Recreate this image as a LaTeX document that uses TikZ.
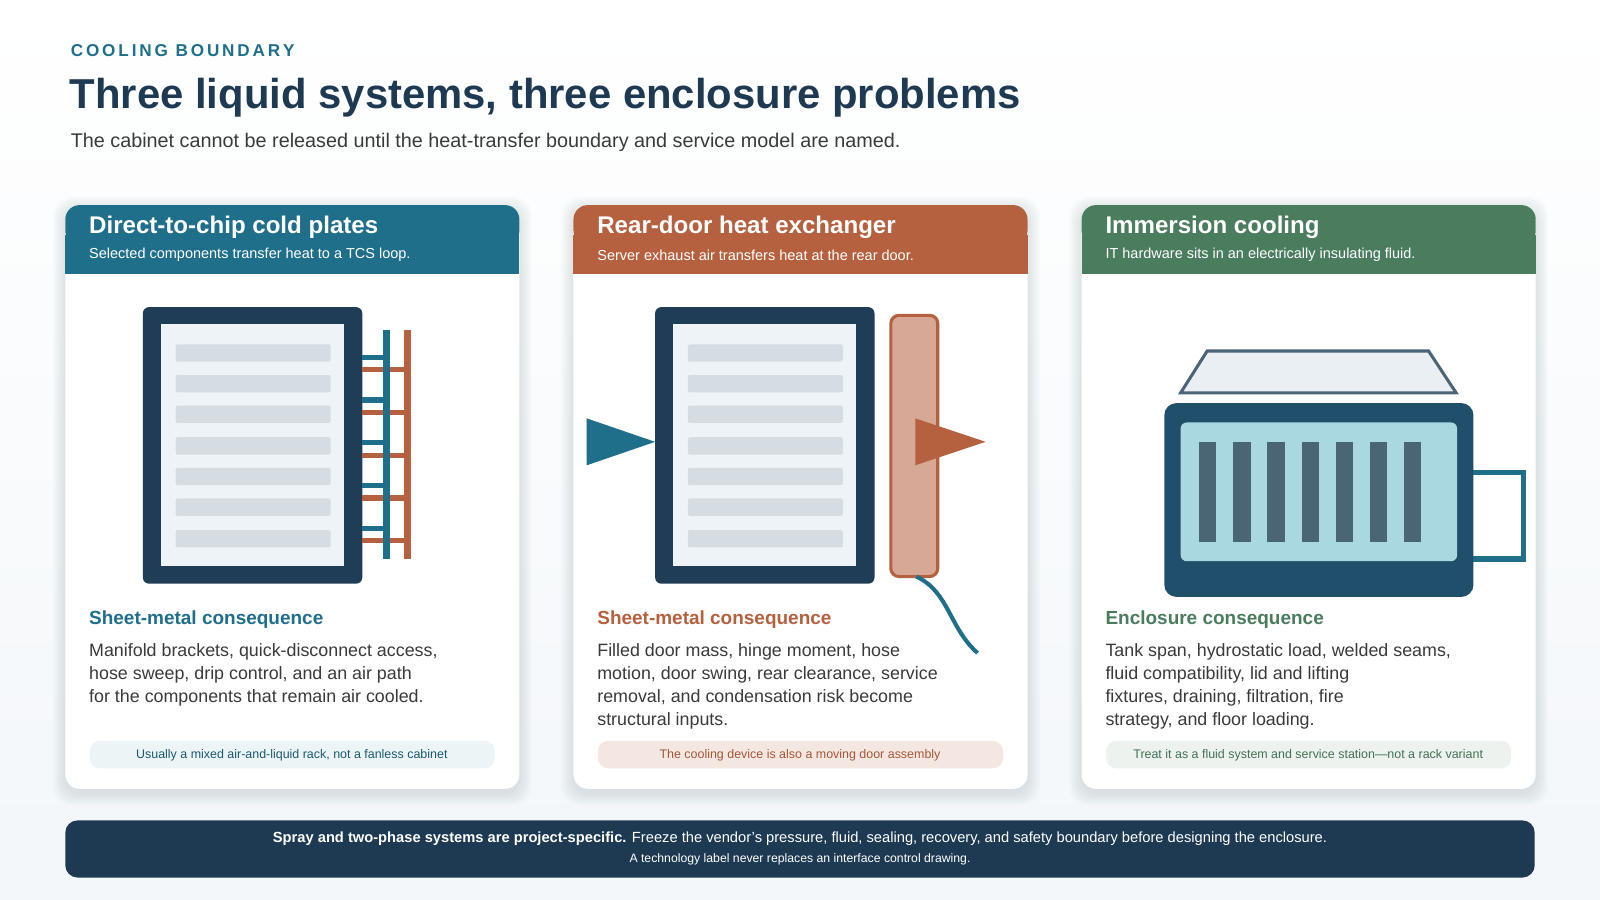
\documentclass[tikz,border=0pt]{standalone}
\usepackage{fontspec}
\setmainfont{Liberation Sans}
\definecolor{navy}{HTML}{1D3A52}
\definecolor{teal}{HTML}{1F6F8B}
\definecolor{rust}{HTML}{B5603F}
\definecolor{grn}{HTML}{4A7C5E}
\definecolor{srv}{HTML}{1F3D56}
\definecolor{srvin}{HTML}{EEF3F7}
\definecolor{bar}{HTML}{D5DDE3}
\definecolor{bodyc}{HTML}{3A3A3A}
\definecolor{tank}{HTML}{1F4F6A}
\definecolor{fluid}{HTML}{A9D8E0}
\definecolor{board}{HTML}{4A6573}
\begin{document}
\begin{tikzpicture}[x=0.5pt,y=-0.5pt,
  card/.style={fill=white,rounded corners=7pt},
  shade/.style={fill=navy,fill opacity=0.018,rounded corners=9pt},
  htitle/.style={anchor=west,text=white,font=\bfseries\fontsize{11.8}{14}\selectfont,inner sep=0},
  hsub/.style={anchor=west,text=white,font=\fontsize{7.1}{8}\selectfont,inner sep=0},
  sec/.style={anchor=west,font=\bfseries\fontsize{9.3}{11}\selectfont,inner sep=0},
  body/.style={anchor=north west,align=left,text=bodyc,font=\fontsize{8.75}{11.25}\selectfont,inner sep=0},
  note/.style={font=\fontsize{6.1}{7}\selectfont,inner sep=0},
  bars/.style={fill=bar,rounded corners=1pt}]
\useasboundingbox (0,0) rectangle (1568,882);
\fill[top color=white,bottom color=srvin!70] (0,0) rectangle (1568,882);
% titles
\node[anchor=west,text=teal,font=\bfseries\fontsize{8.4}{10}\selectfont,inner sep=0] (kicker) at (69,50) {C\,O\,O\,L\,I\,N\,G\ \,B\,O\,U\,N\,D\,A\,R\,Y};
\node[anchor=west,text=navy,font=\bfseries\fontsize{20.5}{24}\selectfont,inner sep=0] (title) at (68,96) {Three liquid systems, three enclosure problems};
\node[anchor=west,text=bodyc,font=\fontsize{9.7}{11}\selectfont,inner sep=0] (sub) at (69,140) {The cabinet cannot be released until the heat-transfer boundary and service model are named.};
% cards
\foreach \x/\c/\n in {64/teal/a,562/rust/b,1060/grn/c}{
  \foreach \k in {2,4,...,12} \path[shade] (\x-\k,201-\k+4) rectangle (\x+445+\k,773+\k+4);
  \path[card] (\x,201) rectangle (\x+445,773);
  \fill[\c,rounded corners=7pt] (\x,201) rectangle (\x+445,240);
  \fill[\c] (\x,230) rectangle (\x+445,269);
}
\node[htitle] (ha) at (87,223) {Direct-to-chip cold plates};
\node[hsub] (sa) at (87,250) {Selected components transfer heat to a TCS loop.};
\node[htitle] (hb) at (585,223) {Rear-door heat exchanger};
\node[hsub] (sb) at (585,250) {Server exhaust air transfers heat at the rear door.};
\node[htitle] (hc) at (1083,223) {Immersion cooling};
\node[hsub] (sc) at (1083,250) {IT hardware sits in an electrically insulating fluid.};
% servers
\foreach \x in {140,642}{
  \fill[srv,rounded corners=3pt] (\x,301) rectangle (\x+215,572);
  \fill[srvin] (\x+18,318) rectangle (\x+197,555);
  \foreach \y in {346,376,406,437,467,497,528}
    \fill[bars] (\x+32,\y-8.5) rectangle (\x+184,\y+8.5);
}
% ladder
\foreach \y in {350,392,434,476,518} \draw[teal,line width=2.5pt] (355,\y) -- (379,\y);
\foreach \y in {362,404,446,488,530} \draw[rust,line width=2.5pt] (355,\y) -- (399,\y);
\draw[teal,line width=3.5pt] (379,323) -- (379,548);
\draw[rust,line width=3.5pt] (399,323) -- (399,548);
% rear door
\fill[teal] (575,410) -- (642,433) -- (575,456) -- cycle;
\draw[rust,fill=rust!55!white,line width=1.5pt,rounded corners=4pt] (873,309) rectangle (919,565);
\fill[rust] (897,410) -- (966,433) -- (897,456) -- cycle;
\draw[teal,line width=2pt] (898,565) .. controls (930,580) and (930,615) .. (958,640);
% immersion
\draw[srv!80,fill=srvin!80!bar,line width=1.5pt] (1157,385) -- (1183,344) -- (1400,344) -- (1427,385) -- cycle;
\draw[teal,line width=2.8pt] (1444,463) -- (1493,463) -- (1493,548) -- (1444,548);
\fill[tank,rounded corners=6pt] (1141,395) rectangle (1444,585);
\fill[fluid,rounded corners=3pt] (1157,414) rectangle (1428,550);
\foreach \i in {0,...,6} \fill[board] (1175+\i*33.5,433) rectangle (1192+\i*33.5,531);
% section texts
\node[sec,text=teal] (ca) at (87,607) {Sheet-metal consequence};
\node[sec,text=rust] (cb) at (585,607) {Sheet-metal consequence};
\node[sec,text=grn] (cc) at (1083,607) {Enclosure consequence};
\node[body] (ba) at (87,630) {Manifold brackets, quick-disconnect access,\\hose sweep, drip control, and an air path\\for the components that remain air cooled.};
\node[body] (bb) at (585,630) {Filled door mass, hinge moment, hose\\motion, door swing, rear clearance, service\\removal, and condensation risk become\\structural inputs.};
\node[body] (bc) at (1083,630) {Tank span, hydrostatic load, welded seams,\\fluid compatibility, lid and lifting\\fixtures, draining, filtration, fire\\strategy, and floor loading.};
% notes
\fill[teal!8,rounded corners=5pt] (88,726) rectangle (485,753);
\node[note,text=teal!80!black] (na) at (286,740) {Usually a mixed air-and-liquid rack, not a fanless cabinet};
\fill[rust!15,rounded corners=5pt] (586,726) rectangle (983,753);
\node[note,text=rust!90!black] (nb) at (784,740) {The cooling device is also a moving door assembly};
\fill[grn!10,rounded corners=5pt] (1084,726) rectangle (1481,753);
\node[note,text=grn!90!black] (nc) at (1282,740) {Treat it as a fluid system and service station—not a rack variant};
% banner
\fill[navy,rounded corners=6pt] (64,804) rectangle (1504,860);
\node[text=white,font=\fontsize{7.2}{9}\selectfont,inner sep=0] (f1) at (784,822) {\textbf{Spray and two-phase systems are project-specific.} Freeze the vendor's pressure, fluid, sealing, recovery, and safety boundary before designing the enclosure.};
\node[text=white,font=\fontsize{6}{7}\selectfont,inner sep=0] (f2) at (784,842) {A technology label never replaces an interface control drawing.};
\end{tikzpicture}
\end{document}
